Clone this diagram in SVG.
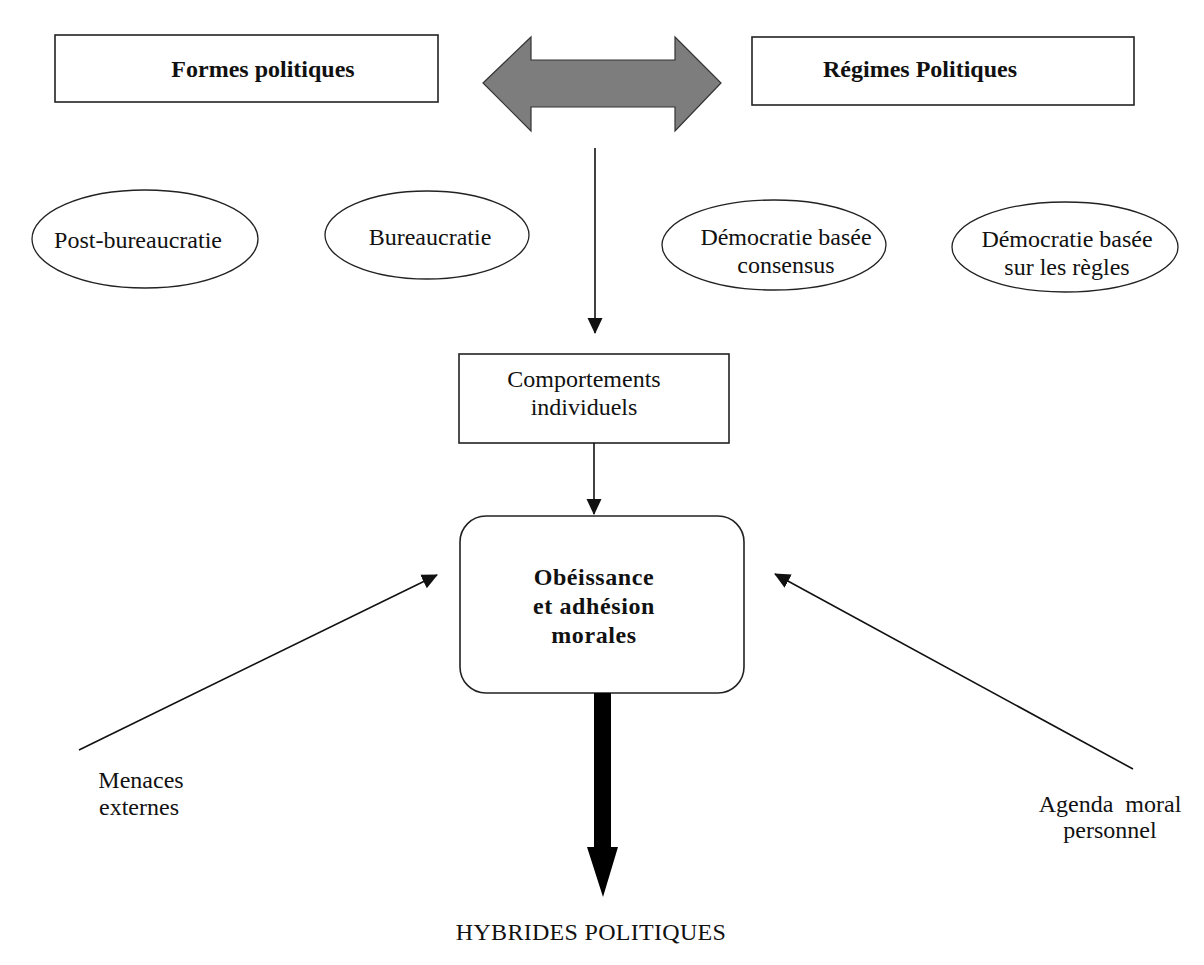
<svg xmlns="http://www.w3.org/2000/svg" width="1204" height="965" viewBox="0 0 1204 965">
<style>
text{font-family:"Liberation Serif","Times New Roman",serif;font-size:24px;fill:#111;text-anchor:middle}
.b{font-weight:bold}
.box{fill:#fff;stroke:#222;stroke-width:1.6}
.thin{fill:#fff;stroke:#222;stroke-width:1.3}
.ln{fill:none;stroke:#111;stroke-width:1.6}
</style>
<defs>
<marker id="ah" markerWidth="10" markerHeight="10" refX="9" refY="5" orient="auto" markerUnits="userSpaceOnUse" viewBox="0 0 10 10">
<path d="M0,0 L10,5 L0,10 Z" fill="#111"/>
</marker>
<marker id="ah2" markerWidth="16" markerHeight="16" refX="15" refY="8" orient="auto" markerUnits="userSpaceOnUse" viewBox="0 0 16 16">
<path d="M0,0.5 L16,8 L0,15.5 Z" fill="#111"/>
</marker>
</defs>
<rect width="1204" height="965" fill="#fff"/>

<g id="formes">
<rect class="box" x="55" y="35" width="383" height="67"/>
<text class="b" x="263" y="77">Formes politiques</text>
</g>
<g id="regimes">
<rect class="box" x="752" y="37" width="382" height="68"/>
<text class="b" x="920" y="77">Régimes Politiques</text>
</g>
<g id="double-arrow">
<path d="M483,83 L531,37 L531,60 L675,60 L675,37 L721,83 L675,131 L675,107 L531,107 L531,131 Z" fill="#7d7d7d" stroke="#333" stroke-width="1.2"/>
</g>

<g id="post-bureaucratie">
<ellipse class="thin" cx="145" cy="239" rx="113" ry="49"/>
<text x="138" y="248">Post-bureaucratie</text>
</g>
<g id="bureaucratie">
<ellipse class="thin" cx="427" cy="235" rx="102" ry="44"/>
<text x="430" y="245">Bureaucratie</text>
</g>
<g id="democratie-consensus">
<ellipse class="thin" cx="774" cy="245" rx="112" ry="45"/>
<text x="786" y="245">Démocratie basée</text>
<text x="786" y="273">consensus</text>
</g>
<g id="democratie-regles">
<ellipse class="thin" cx="1065" cy="247" rx="113" ry="45"/>
<text x="1067" y="247">Démocratie basée</text>
<text x="1067" y="275">sur les règles</text>
</g>

<g id="comportements">
<rect class="box" x="459" y="354" width="270" height="89"/>
<text x="584" y="387">Comportements</text>
<text x="584" y="415">individuels</text>
</g>

<g id="obeissance">
<rect class="box" x="460" y="516" width="284" height="177" rx="26" ry="26"/>
<text class="b" x="594" y="585" style="letter-spacing:0.6px">Obéissance</text>
<text class="b" x="594" y="614" style="letter-spacing:0.6px">et adhésion</text>
<text class="b" x="594" y="643" style="letter-spacing:0.6px">morales</text>
</g>

<g id="menaces">
<text x="141" y="788">Menaces</text>
<text x="139" y="815">externes</text>
</g>
<g id="agenda">
<text x="1110" y="812" style="word-spacing:6px">Agenda moral</text>
<text x="1110" y="838">personnel</text>
</g>
<g id="hybrides">
<text x="591" y="940" style="letter-spacing:0.3px">HYBRIDES POLITIQUES</text>
</g>

<g id="connectors">
<line class="ln" x1="595" y1="148" x2="595" y2="333" marker-end="url(#ah2)"/>
<line class="ln" x1="594" y1="443" x2="594" y2="514" marker-end="url(#ah2)"/>
<line class="ln" x1="79" y1="750" x2="437" y2="575" marker-end="url(#ah2)"/>
<line class="ln" x1="1133" y1="769" x2="775" y2="574" marker-end="url(#ah2)"/>
<path d="M594,693 L611,693 L611,847 L618,847 L603,897 L587,847 L594,847 Z" fill="#000"/>
</g>
</svg>
